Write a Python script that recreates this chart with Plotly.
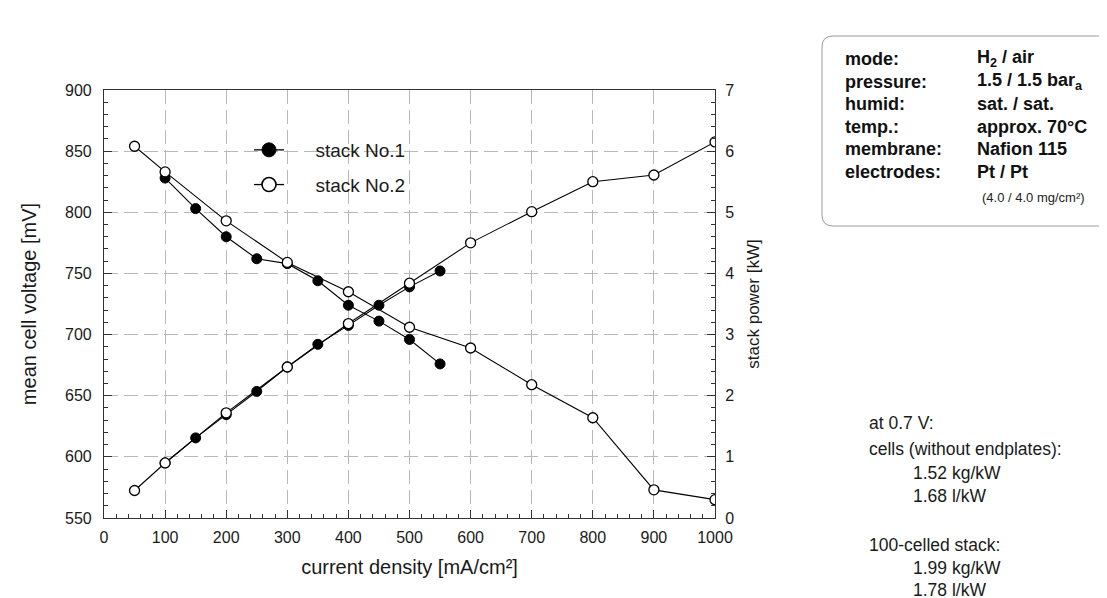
import plotly.graph_objects as go

# ---------------- data ----------------
current_1 = [100, 150, 200, 250, 300, 350, 400, 450, 500, 550]
voltage_1 = [828, 803, 780, 762, 758, 744, 724, 711, 696, 676]
power_1 = [0.90, 1.31, 1.69, 2.07, 2.47, 2.84, 3.15, 3.48, 3.78, 4.04]

current_2 = [50, 100, 200, 300, 400, 500, 600, 700, 800, 900, 1000]
voltage_2 = [854, 833, 793, 759, 735, 706, 689, 659, 632, 573, 565]
power_2 = [0.45, 0.90, 1.72, 2.47, 3.18, 3.84, 4.50, 5.01, 5.50, 5.61, 6.15]

series_names = ["stack No.1", "stack No.2"]

info_labels = ["mode:", "pressure:", "humid:", "temp.:", "membrane:", "electrodes:"]
info_values = ["H<sub>2</sub> / air", "1.5 / 1.5 bar<sub>a</sub>", "sat. / sat.",
               "approx. 70°C", "Nafion 115", "Pt / Pt"]
info_note = "(4.0 / 4.0 mg/cm²)"

notes_lines = ["at 0.7 V:", "cells (without endplates):", "1.52 kg/kW", "1.68 l/kW",
               "100-celled stack:", "1.99 kg/kW", "1.78 l/kW"]
notes_indent = [False, False, True, True, False, True, True]

# ---------------- layout geometry ----------------
W, H = 1107, 598
L, R, T, B = 96, 707, 82, 510
FONT = "Liberation Sans, Arial, Helvetica, sans-serif"


def px(xp):
    return (xp - L) / (R - L)


def py(yp):
    return (B - yp) / (B - T)


fig = go.Figure()

line_style = dict(color="black", width=1.1)
filled = dict(symbol="circle", size=10, color="black", line=dict(color="black", width=1))
opened = dict(symbol="circle", size=10, color="white", line=dict(color="black", width=1.3))

fig.add_trace(go.Scatter(x=current_1, y=voltage_1, mode="lines+markers", line=line_style,
                         marker=filled, showlegend=False, yaxis="y"))
fig.add_trace(go.Scatter(x=current_1, y=power_1, mode="lines+markers", line=line_style,
                         marker=filled, showlegend=False, yaxis="y2"))
fig.add_trace(go.Scatter(x=current_2, y=voltage_2, mode="lines+markers", line=line_style,
                         marker=opened, showlegend=False, yaxis="y"))
fig.add_trace(go.Scatter(x=current_2, y=power_2, mode="lines+markers", line=line_style,
                         marker=opened, showlegend=False, yaxis="y2"))

# legend-only entries (larger symbols as in the reference)
gap = "\u00a0" * 5
fig.add_trace(go.Scatter(x=[None], y=[None], mode="lines+markers", name=gap + series_names[0],
                         legendgroup="s1", line=dict(color="black", width=1.3),
                         marker=dict(symbol="circle", size=14, color="black",
                                     line=dict(color="black", width=1))))
fig.add_trace(go.Scatter(x=[None], y=[None], mode="lines+markers", name=gap + series_names[1],
                         legendgroup="s2", line=dict(color="black", width=1.3),
                         marker=dict(symbol="circle", size=14, color="white",
                                     line=dict(color="black", width=1.6))))

grid = dict(showgrid=True, gridcolor="#b8b8b8", gridwidth=1.2, griddash="14px,6px")
tick_common = dict(ticks="inside", ticklen=8, tickwidth=1, tickcolor="#333",
                   showline=True, linecolor="#333", linewidth=1.2, zeroline=False,
                   tickfont=dict(size=16))

fig.update_layout(
    width=W, height=H,
    margin=dict(l=L, r=W - R, t=T, b=H - B, pad=0),
    paper_bgcolor="white", plot_bgcolor="white",
    font=dict(family=FONT, color="#1a1a1a", size=16),
    xaxis=dict(range=[0, 1000], dtick=100, tick0=0, mirror=True, ticklabelstandoff=5,
               minor=dict(dtick=20, ticks="inside", ticklen=4, tickcolor="#333", showgrid=False),
               title=dict(text="current density [mA/cm²]", font=dict(size=20), standoff=14),
               **tick_common, **grid),
    yaxis=dict(range=[550, 900], dtick=50, tick0=550, ticklabelstandoff=8,
               minor=dict(dtick=10, ticks="inside", ticklen=4, tickcolor="#333", showgrid=False),
               title=dict(text="mean cell voltage [mV]", font=dict(size=20), standoff=22),
               **tick_common, **grid),
    yaxis2=dict(range=[0, 7], dtick=1, tick0=0, ticklabelstandoff=6,
                overlaying="y", side="right", showgrid=False,
                minor=dict(dtick=0.2, ticks="inside", ticklen=4, tickcolor="#333", showgrid=False),
                title=dict(text="stack power [kW]", font=dict(size=17), standoff=13),
                **tick_common),
    legend=dict(x=px(241), y=py(123), xanchor="left", yanchor="top",
                bgcolor="rgba(0,0,0,0)", borderwidth=0, font=dict(size=19),
                itemwidth=30, tracegroupgap=7),
    showlegend=True,
)

# info box (rounded rectangle in paper coordinates)
bx0, bx1, by0, by1, rad = 814, 1104, 28, 218, 11
x0, x1 = px(bx0), px(bx1)
y0, y1 = py(by1), py(by0)
rx, ry = rad / (R - L), rad / (B - T)
path = (f"M{x0 + rx},{y0} L{x1 - rx},{y0} Q{x1},{y0} {x1},{y0 + ry} "
        f"L{x1},{y1 - ry} Q{x1},{y1} {x1 - rx},{y1} L{x0 + rx},{y1} "
        f"Q{x0},{y1} {x0},{y1 - ry} L{x0},{y0 + ry} Q{x0},{y0} {x0 + rx},{y0} Z")
fig.add_shape(type="path", path=path, xref="paper", yref="paper",
              line=dict(color="#9a9a9a", width=1), fillcolor="rgba(0,0,0,0)")

row0, dy = 51, 22.6
for i, (lab, val) in enumerate(zip(info_labels, info_values)):
    yy = py(row0 + i * dy)
    fig.add_annotation(x=px(835), y=yy, xref="paper", yref="paper", text=f"<b>{lab}</b>",
                       showarrow=False, xanchor="left", yanchor="middle",
                       font=dict(size=18, color="#111"))
    fig.add_annotation(x=px(967), y=yy, xref="paper", yref="paper", text=f"<b>{val}</b>",
                       showarrow=False, xanchor="left", yanchor="middle",
                       font=dict(size=18, color="#111"))
fig.add_annotation(x=px(972), y=py(189), xref="paper", yref="paper",
                   text=info_note, showarrow=False, xanchor="left", yanchor="middle",
                   font=dict(size=13, color="#222"))

# notes at the lower right
note_y = [415, 441, 465, 488, 537, 560, 582]
for txt, yv, ind in zip(notes_lines, note_y, notes_indent):
    fig.add_annotation(x=px(859 + (44 if ind else 0)), y=py(yv), xref="paper", yref="paper",
                       text=txt, showarrow=False, xanchor="left", yanchor="middle",
                       font=dict(size=17.5, color="#1a1a1a"))

fig.write_html("out.html")
